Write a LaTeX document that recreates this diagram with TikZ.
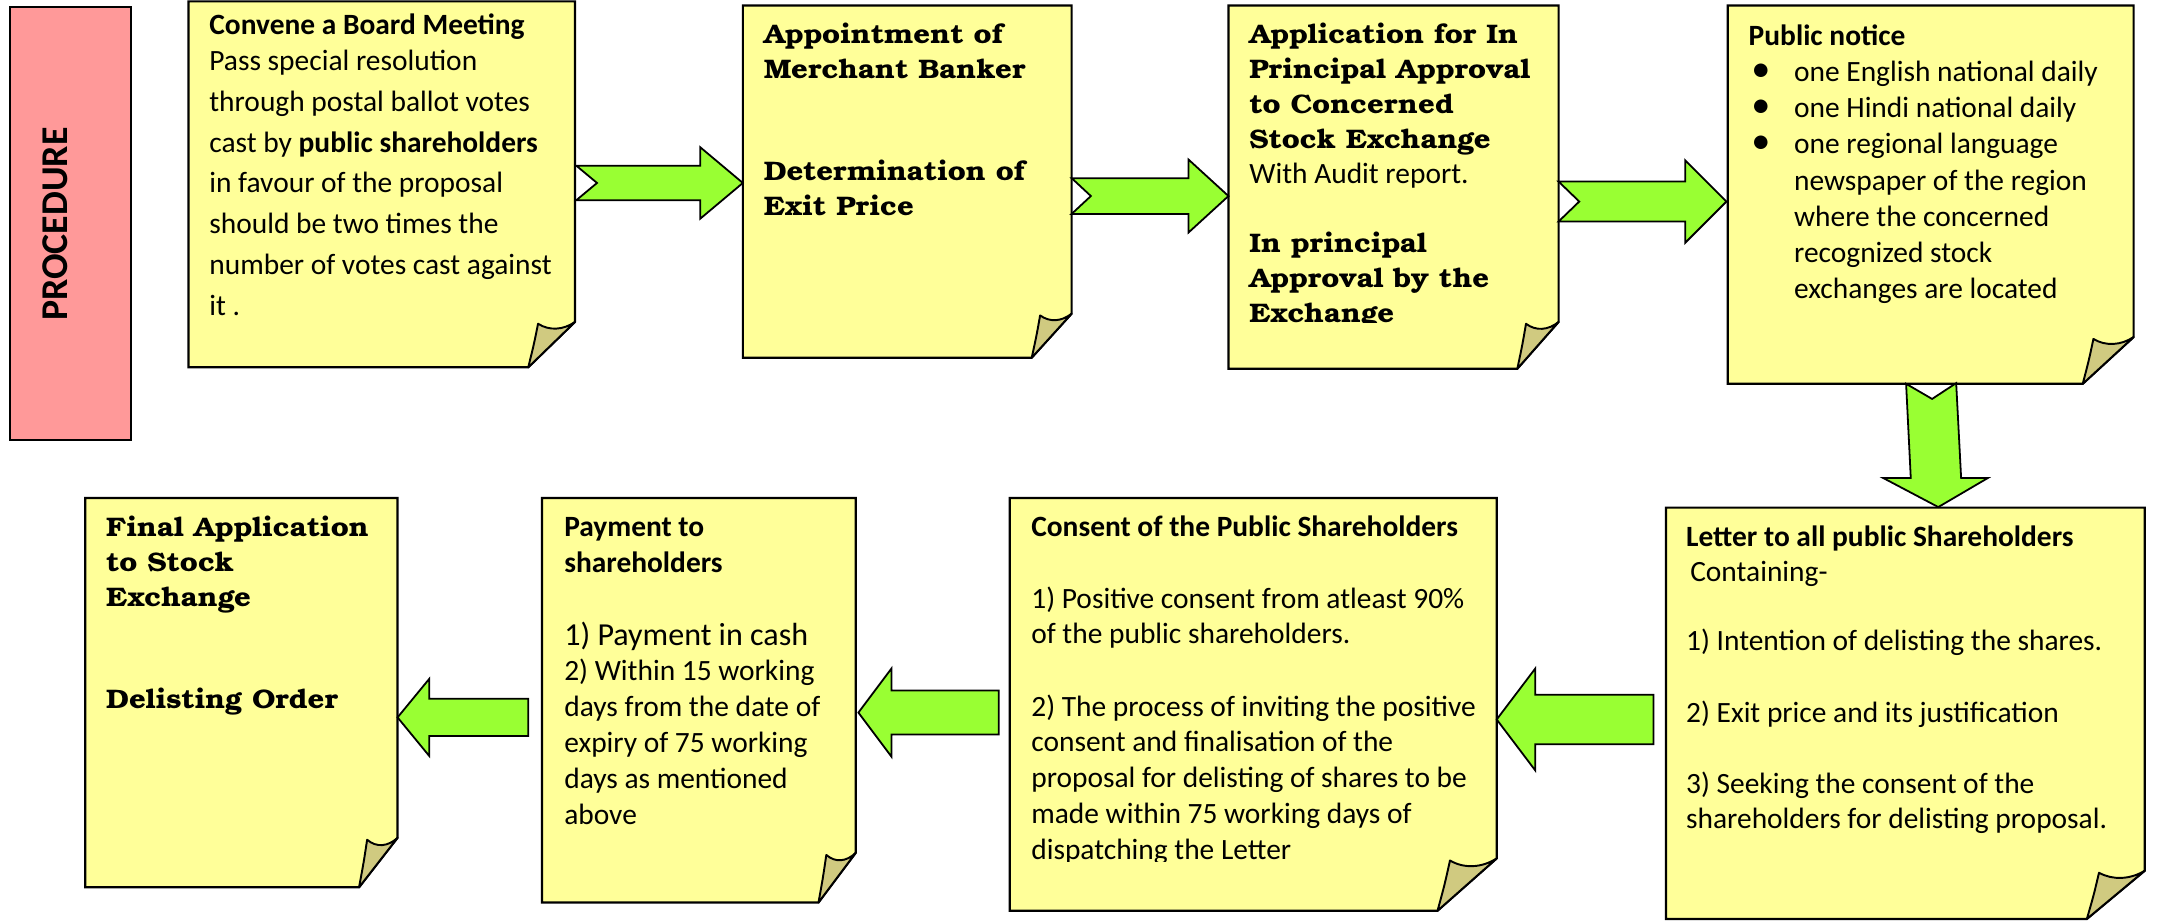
\documentclass[tikz,border=0pt]{standalone}
\usepackage{fontspec}
\setmainfont{Carlito}
\newfontfamily\slab{texgyrebonum-bold.otf}[FakeStretch=1.09]
\usetikzlibrary{calc}
\definecolor{paper}{HTML}{FFFF99}
\definecolor{flapcol}{RGB}{208,202,128}
\definecolor{arrowgreen}{HTML}{99FF33}
\definecolor{pinkbox}{HTML}{FF9999}
\tikzset{
  paperstyle/.style={fill=paper,draw=black,line width=1.6pt,line join=miter},
  flapstyle/.style={fill=flapcol,draw=black,line width=1.4pt,line join=round},
  blockarrow/.style={fill=arrowgreen,draw=black,line width=1.3pt,line join=miter},
  txt/.style={anchor=base west,inner sep=0pt},
}
\newcommand\bodyfont{\fontsize{21.4}{26}\selectfont}
\newcommand\serifhead{\slab\fontsize{19.5}{25.5}\selectfont}
\newcommand\bigbullet{\makebox[31pt][l]{\smash{\scalebox{1.3}{\textbullet}}}}
\newcommand\paperbox[7]{%
  \draw[paperstyle] (#2,#3) coordinate (#1-nw) -- (#4,#3) -- (#4,{#5-#7}) coordinate (#1-fr)
     -- ({#4-#6},#5) coordinate (#1-fb) -- (#2,#5) -- cycle;
  \draw[flapstyle] (#1-fb) .. controls ({#4-0.88*#6},{#5-0.5*#7}) .. ({#4-0.79*#6},{#5-0.96*#7}) coordinate (#1-tip)
     .. controls ({#4-0.55*#6},{#5-0.8*#7}) and ({#4-0.25*#6},{#5-0.82*#7}) .. (#1-fr) -- cycle;
}
% tail notch headbase tip cy shafthalf headhalf
\newcommand\rightblock[7]{%
  \draw[blockarrow] (#1,{#5-#6}) -- (#3,{#5-#6}) -- (#3,{#5-#7}) -- (#4,#5) -- (#3,{#5+#7})
     -- (#3,{#5+#6}) -- (#1,{#5+#6}) -- (#2,#5) -- cycle;
}
% tail headbase tip cy shafthalf headhalf
\newcommand\leftblock[6]{%
  \draw[blockarrow] (#1,{#4-#5}) -- (#2,{#4-#5}) -- (#2,{#4-#6}) -- (#3,#4) -- (#2,{#4+#6})
     -- (#2,{#4+#5}) -- (#1,{#4+#5}) -- cycle;
}
\begin{document}
\begin{tikzpicture}[x=1pt,y=-1pt]
\useasboundingbox (0,0) rectangle (1568,670);

% PROCEDURE bar
\draw[fill=pinkbox,draw=black,line width=1.6pt] (7,5) rectangle (95,320);
\node[rotate=90,inner sep=0pt,font=\fontsize{27.5}{30}\selectfont\bfseries] (proc) at (40.5,163) {PROCEDURE};

% paper boxes
\paperbox{b1}{137}{1}{418}{267}{34}{33}
\paperbox{b2}{540}{4}{779}{260}{29}{32}
\paperbox{b3}{893}{4}{1133}{268}{30}{34}
\paperbox{b4}{1256}{4}{1551}{279}{37}{34}
\paperbox{b5}{62}{362}{289}{645}{28}{36}
\paperbox{b6}{394}{362}{622}{656}{27}{36}
\paperbox{b7}{734}{362}{1088}{662}{43}{38}
\paperbox{b8}{1211}{369}{1559}{668}{42}{35}

% arrows
\rightblock{419}{434}{509}{540}{133}{12.5}{26}
\rightblock{779}{793}{864}{893}{142.5}{13}{26.5}
\rightblock{1133}{1148}{1225}{1255}{146.5}{14.5}{30}
\draw[blockarrow] (1385.6,279) -- (1404.5,290) -- (1422,278.5) -- (1425.6,347.5) -- (1445,347.5)
   -- (1409,368.6) -- (1369,347.5) -- (1389,347.5) -- cycle;
\leftblock{1202}{1116}{1088}{523}{18}{37}
\leftblock{726}{648}{624}{518}{16}{32}
\leftblock{384}{312}{289}{521.5}{13.5}{28}

% texts
\node[txt] (t1) at (152,25.4) {\parbox[t]{400pt}{\fontsize{21.4}{29.6}\selectfont
  \textbf{Convene a Board Meeting}\\[-3.6pt]
  Pass special resolution\\
  through postal ballot votes\\
  cast by \textbf{public shareholders}\\
  in favour of the proposal\\
  should be two times the\\
  number of votes cast against\\
  it .}};

\node[txt] (t2) at (555,31.5) {\parbox[t]{400pt}{\serifhead
  Appointment of\\
  Merchant Banker\\[48.5pt]
  Determination of\\
  Exit Price}};

\begin{scope}
\clip (893,0) rectangle (1133,234.5);
\node[txt] (t3) at (908,31.5) {\parbox[t]{400pt}{\serifhead
  Application for In\\
  Principal Approval\\
  to Concerned\\
  Stock Exchange\\
  {\rmfamily\mdseries\fontsize{21.4}{25.5}\selectfont With Audit report.}\\[24.5pt]
  In principal\\
  Approval by the\\
  Exchange}};
\end{scope}

\node[txt] (t4) at (1271,33) {\parbox[t]{400pt}{\fontsize{21.4}{26.3}\selectfont
  \textbf{Public notice}\\
  \hspace*{2pt}\bigbullet one English national daily\\
  \hspace*{2pt}\bigbullet one Hindi national daily\\
  \hspace*{2pt}\bigbullet one regional language\\
  \hspace*{33pt}newspaper of the region\\
  \hspace*{33pt}where the concerned\\
  \hspace*{33pt}recognized stock\\
  \hspace*{33pt}exchanges are located}};

\node[txt] (t5) at (77,390) {\parbox[t]{400pt}{\serifhead
  Final Application\\
  to Stock\\
  Exchange\\[48.5pt]
  Delisting Order}};

\node[txt] (t6) at (410,390) {\parbox[t]{400pt}{\bodyfont
  \textbf{Payment to}\\
  \textbf{shareholders}\\[27pt]
  {\fontsize{23.3}{26}\selectfont 1) Payment in cash}\\
  2) Within 15 working\\
  days from the date of\\
  expiry of 75 working\\
  days as mentioned\\
  above}};

\begin{scope}
\clip (734,362) rectangle (1088,626);
\node[txt] (t7) at (749.5,390) {\parbox[t]{400pt}{\bodyfont
  \textbf{Consent of the Public Shareholders}\\[26pt]
  1) Positive consent from atleast 90\%\\
  of the public shareholders.\\[26.5pt]
  2) The process of inviting the positive\\
  consent and finalisation of the\\
  proposal for delisting of shares to be\\
  made within 75 working days of\\
  dispatching the Letter}};
\end{scope}

\node[txt] (t8) at (1225.5,397.5) {\parbox[t]{400pt}{\fontsize{21.4}{25.5}\selectfont
  \textbf{Letter to all public Shareholders}\\
  \hspace*{3pt}Containing-\\[24pt]
  1) Intention of delisting the shares.\\[27pt]
  2) Exit price and its justification\\[26pt]
  3) Seeking the consent of the\\
  shareholders for delisting proposal.}};
\end{tikzpicture}
\end{document}
